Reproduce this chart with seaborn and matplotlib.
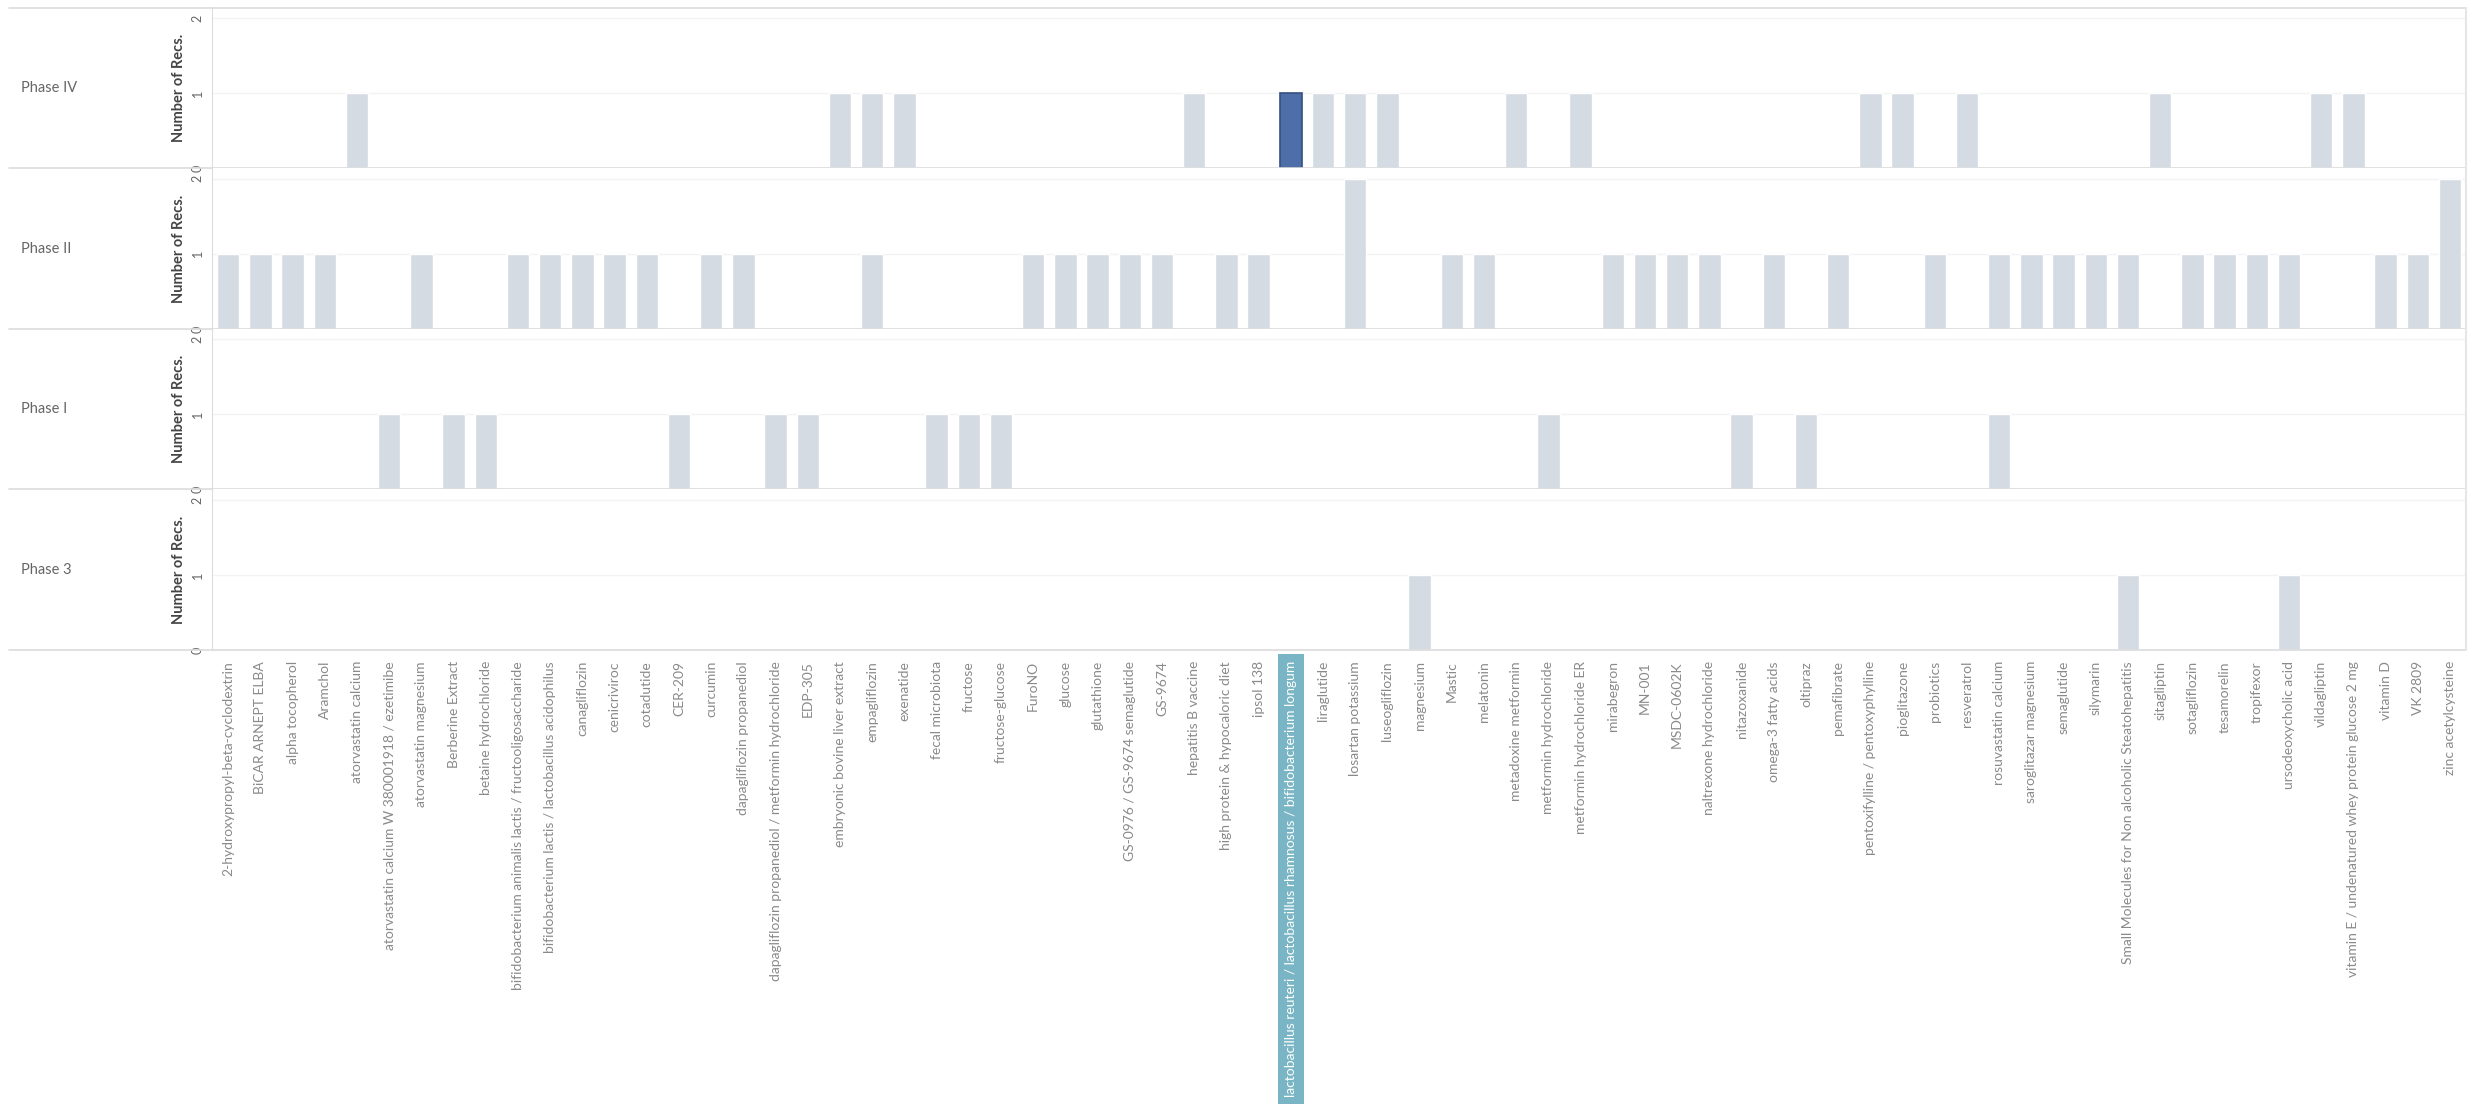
import numpy as np
import pandas as pd
import matplotlib
matplotlib.use("Agg")
import matplotlib.pyplot as plt
import seaborn as sns

# drug names on the x axis (alphabetical, as in the source view)
drugs = [
    "2-hydroxypropyl-beta-cyclodextrin", "BiCAR ARNEPT ELBA", "alpha tocopherol", "Aramchol",
    "atorvastatin calcium", "atorvastatin calcium W 380001918 / ezetimibe", "atorvastatin magnesium",
    "Berberine Extract", "betaine hydrochloride",
    "bifidobacterium animalis lactis / fructooligosaccharide",
    "bifidobacterium lactis / lactobacillus acidophilus", "canagliflozin", "cenicriviroc",
    "cotadutide", "CER-209", "curcumin", "dapagliflozin propanediol",
    "dapagliflozin propanediol / metformin hydrochloride", "EDP-305",
    "embryonic bovine liver extract", "empagliflozin", "exenatide", "fecal microbiota",
    "fructose", "fructose-glucose", "FuroNO", "glucose", "glutathione",
    "GS-0976 / GS-9674 semaglutide", "GS-9674", "hepatitis B vaccine",
    "high protein & hypocaloric diet", "ipsol 138",
    "lactobacillus reuteri / lactobacillus rhamnosus / bifidobacterium longum",
    "liraglutide", "losartan potassium", "luseogliflozin", "magnesium", "Mastic", "melatonin",
    "metadoxine metformin", "metformin hydrochloride", "metformin hydrochloride ER",
    "mirabegron", "MN-001", "MSDC-0602K", "naltrexone hydrochloride", "nitazoxanide",
    "omega-3 fatty acids", "oltipraz", "pemafibrate", "pentoxifylline / pentoxyphylline",
    "pioglitazone", "probiotics", "resveratrol", "rosuvastatin calcium",
    "saroglitazar magnesium", "semaglutide", "silymarin",
    "Small Molecules for Non alcoholic Steatohepatitis", "sitagliptin", "sotagliflozin",
    "tesamorelin", "tropifexor", "ursodeoxycholic acid", "vildagliptin",
    "vitamin E / undenatured whey protein glucose 2 mg", "vitamin D", "VK 2809",
    "zinc acetylcysteine",
]

phases = ["Phase IV", "Phase II", "Phase I", "Phase 3"]

# number of recommendations per drug, one list per phase (same order as drugs)
phase_iv_recs = [
    0, 0, 0, 0, 1, 0, 0, 0, 0, 0,
    0, 0, 0, 0, 0, 0, 0, 0, 0, 1,
    1, 1, 0, 0, 0, 0, 0, 0, 0, 0,
    1, 0, 0, 1, 1, 1, 1, 0, 0, 0,
    1, 0, 1, 0, 0, 0, 0, 0, 0, 0,
    0, 1, 1, 0, 1, 0, 0, 0, 0, 0,
    1, 0, 0, 0, 0, 1, 1, 0, 0, 0,
]
phase_ii_recs = [
    1, 1, 1, 1, 0, 0, 1, 0, 0, 1,
    1, 1, 1, 1, 0, 1, 1, 0, 0, 0,
    1, 0, 0, 0, 0, 1, 1, 1, 1, 1,
    0, 1, 1, 0, 0, 2, 0, 0, 1, 1,
    0, 0, 0, 1, 1, 1, 1, 0, 1, 0,
    1, 0, 0, 1, 0, 1, 1, 1, 1, 1,
    0, 1, 1, 1, 1, 0, 0, 1, 1, 2,
]
phase_i_recs = [
    0, 0, 0, 0, 0, 1, 0, 1, 1, 0,
    0, 0, 0, 0, 1, 0, 0, 1, 1, 0,
    0, 0, 1, 1, 1, 0, 0, 0, 0, 0,
    0, 0, 0, 0, 0, 0, 0, 0, 0, 0,
    0, 1, 0, 0, 0, 0, 0, 1, 0, 1,
    0, 0, 0, 0, 0, 1, 0, 0, 0, 0,
    0, 0, 0, 0, 0, 0, 0, 0, 0, 0,
]
phase_3_recs = [
    0, 0, 0, 0, 0, 0, 0, 0, 0, 0,
    0, 0, 0, 0, 0, 0, 0, 0, 0, 0,
    0, 0, 0, 0, 0, 0, 0, 0, 0, 0,
    0, 0, 0, 0, 0, 0, 0, 1, 0, 0,
    0, 0, 0, 0, 0, 0, 0, 0, 0, 0,
    0, 0, 0, 0, 0, 0, 0, 0, 0, 1,
    0, 0, 0, 0, 1, 0, 0, 0, 0, 0,
]

highlight_drug = drugs[33]
highlight_phase = "Phase IV"

df = pd.DataFrame({
    "drug": drugs * 4,
    "phase": np.repeat(phases, len(drugs)),
    "recs": phase_iv_recs + phase_ii_recs + phase_i_recs + phase_3_recs,
})

bar_color = "#d5dbe3"
dark_bar = "#4e6ea9"
line_color = "#dcdcdc"

sns.set_style("white")
plt.rcParams["font.family"] = ["Lato", "DejaVu Sans"]

fig, axes = plt.subplots(4, 1, figsize=(24.81, 11.13), dpi=100, sharex=True)
fig.subplots_adjust(left=0.0855, right=0.994, top=0.993, bottom=0.416, hspace=0)

for ax, phase in zip(axes, phases):
    sub = df[df["phase"] == phase]
    sns.barplot(data=sub, x="drug", y="recs", order=drugs, color=bar_color,
                saturation=1, width=0.7, errorbar=None, ax=ax)
    if phase == highlight_phase:
        bar = ax.patches[drugs.index(highlight_drug)]
        bar.set_facecolor(dark_bar)
        bar.set_edgecolor("#34507f")
        bar.set_linewidth(1.2)

    ax.set_ylim(0, 2.14)
    ax.set_yticks([0, 1, 2])
    ax.set_yticklabels(["0", "1", "2"], rotation=90, va="center",
                       fontsize=9, color="#666666")
    ax.tick_params(axis="y", length=0, pad=6)
    ax.yaxis.grid(True, color="#f3f3f3", lw=1)
    ax.set_axisbelow(True)
    ax.set_ylabel("Number of Recs.", fontsize=10.5, color="#444444",
                  fontweight="bold", labelpad=4)
    ax.set_xlabel("")

    for side in ["top", "bottom"]:
        ax.spines[side].set_visible(False)
    ax.spines["left"].set_color(line_color)
    ax.spines["right"].set_color("#e6e6e6")
    ax.spines["right"].set_linewidth(1.5)

    # row separators running under the header column
    ax.plot([-0.09, 1], [0, 0], transform=ax.transAxes, color=line_color,
            lw=1.2, clip_on=False, scalex=False, scaley=False)
    ax.text(-0.085, 0.5, phase, transform=ax.transAxes, ha="left", va="center",
            fontsize=10.5, color="#666666")

axes[0].plot([-0.09, 1], [1, 1], transform=axes[0].transAxes, color=line_color,
             lw=1.2, clip_on=False, scalex=False, scaley=False)

bottom = axes[-1]
bottom.set_xlim(-0.5, len(drugs) - 0.5)
bottom.tick_params(axis="x", rotation=90, labelsize=10, colors="#8a8a8a", length=0, pad=8)
for lbl in bottom.get_xticklabels():
    if lbl.get_text() == highlight_drug:
        lbl.set_color("white")
        lbl.set_bbox(dict(facecolor="#79b5c5", edgecolor="none", pad=5))

fig.savefig("out.png", dpi=100, facecolor="white")
